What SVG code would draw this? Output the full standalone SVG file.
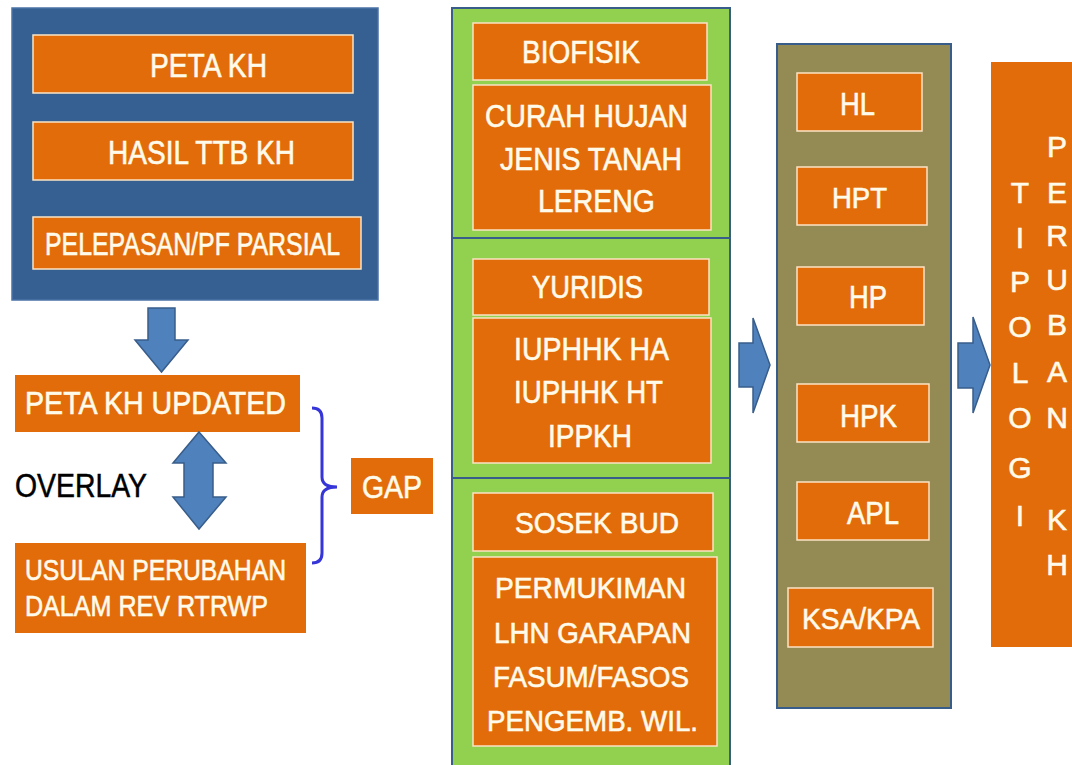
<svg xmlns="http://www.w3.org/2000/svg" width="1072" height="765" viewBox="0 0 1072 765">
<defs>
<style>
.ob{fill:#E36C0A;stroke:#FBE3C4;stroke-width:1.5}
.t{font-family:"Liberation Sans",Arial,sans-serif;fill:#FFFBEA;stroke:#FFFBEA;stroke-width:0.6}
.bk{font-family:"Liberation Sans",Arial,sans-serif;fill:#000;stroke:#000;stroke-width:0.5}
.gr{fill:#92D050;stroke:#385D8A;stroke-width:2}
.arw{fill:#4F81BD;stroke:#385D8A;stroke-width:1.5}
</style>
</defs>
<rect width="1072" height="765" fill="#fff"/>

<g id="left-container">
<rect x="12" y="8" width="366" height="292" fill="#376092" stroke="#4A72A6" stroke-width="1.5"/>
</g>
<g id="peta-kh">
<rect class="ob" x="33" y="35" width="320" height="58"/>
<text class="t" x="150" y="77" font-size="33" textLength="117" lengthAdjust="spacingAndGlyphs">PETA KH</text>
</g>
<g id="hasil-ttb">
<rect class="ob" x="33" y="122" width="320" height="58"/>
<text class="t" x="108" y="164" font-size="33" textLength="187" lengthAdjust="spacingAndGlyphs">HASIL TTB KH</text>
</g>
<g id="pelepasan">
<rect class="ob" x="33" y="217" width="328" height="52"/>
<text class="t" x="45" y="255" font-size="31" textLength="295" lengthAdjust="spacingAndGlyphs">PELEPASAN/PF  PARSIAL</text>
</g>

<g id="peta-kh-updated">
<rect x="15" y="375" width="285" height="57" fill="#E36C0A"/>
<text class="t" x="25" y="414" font-size="31" textLength="261" lengthAdjust="spacingAndGlyphs">PETA KH UPDATED</text>
</g>
<g id="overlay-label">
<text class="bk" x="15" y="497" font-size="33" textLength="132" lengthAdjust="spacingAndGlyphs">OVERLAY</text>
</g>
<g id="usulan">
<rect x="15" y="543" width="291" height="90" fill="#E36C0A"/>
<text class="t" x="25" y="580" font-size="29" textLength="261" lengthAdjust="spacingAndGlyphs">USULAN PERUBAHAN</text>
<text class="t" x="25" y="616" font-size="29" textLength="243" lengthAdjust="spacingAndGlyphs">DALAM REV RTRWP</text>
</g>
<g id="gap">
<rect x="351" y="458" width="82" height="56" fill="#E36C0A"/>
<text class="t" x="362" y="498" font-size="32" textLength="60" lengthAdjust="spacingAndGlyphs">GAP</text>
</g>

<g id="biofisik-section">
<rect class="gr" x="452" y="8" width="278" height="230"/>
<rect class="ob" x="473" y="23" width="234" height="57"/>
<text class="t" x="522" y="63" font-size="32" textLength="118" lengthAdjust="spacingAndGlyphs">BIOFISIK</text>
<rect class="ob" x="473" y="85" width="238" height="145"/>
<text class="t" x="485" y="127" font-size="32" textLength="203" lengthAdjust="spacingAndGlyphs">CURAH HUJAN</text>
<text class="t" x="500" y="170" font-size="32" textLength="182" lengthAdjust="spacingAndGlyphs">JENIS TANAH</text>
<text class="t" x="538" y="212" font-size="32" textLength="117" lengthAdjust="spacingAndGlyphs">LERENG</text>
</g>
<g id="yuridis-section">
<rect class="gr" x="452" y="238" width="278" height="240"/>
<rect class="ob" x="473" y="259" width="236" height="56"/>
<text class="t" x="532" y="298" font-size="31" textLength="111" lengthAdjust="spacingAndGlyphs">YURIDIS</text>
<rect class="ob" x="473" y="318" width="238" height="145"/>
<text class="t" x="514" y="360" font-size="32" textLength="155" lengthAdjust="spacingAndGlyphs">IUPHHK HA</text>
<text class="t" x="514" y="403" font-size="32" textLength="149" lengthAdjust="spacingAndGlyphs">IUPHHK HT</text>
<text class="t" x="548" y="447" font-size="32" textLength="84" lengthAdjust="spacingAndGlyphs">IPPKH</text>
</g>
<g id="sosek-section">
<rect class="gr" x="452" y="478" width="278" height="295"/>
<rect class="ob" x="473" y="493" width="240" height="58"/>
<text class="t" x="515" y="533" font-size="30" textLength="164" lengthAdjust="spacingAndGlyphs">SOSEK BUD</text>
<rect class="ob" x="473" y="557" width="244" height="189"/>
<text class="t" x="495" y="598" font-size="30" textLength="191" lengthAdjust="spacingAndGlyphs">PERMUKIMAN</text>
<text class="t" x="494" y="643" font-size="30" textLength="197" lengthAdjust="spacingAndGlyphs">LHN GARAPAN</text>
<text class="t" x="493" y="687" font-size="30" textLength="196" lengthAdjust="spacingAndGlyphs">FASUM/FASOS</text>
<text class="t" x="487" y="731" font-size="30" textLength="211" lengthAdjust="spacingAndGlyphs">PENGEMB. WIL.</text>
</g>

<g id="kawasan-column">
<rect x="777" y="44" width="174" height="664" fill="#948A54" stroke="#385D8A" stroke-width="2"/>
</g>
<g id="hl">
<rect class="ob" x="797" y="73" width="125" height="58"/>
<text class="t" x="840" y="115" font-size="31" textLength="35" lengthAdjust="spacingAndGlyphs">HL</text>
</g>
<g id="hpt">
<rect class="ob" x="797" y="167" width="130" height="58"/>
<text class="t" x="832" y="208" font-size="29" textLength="55" lengthAdjust="spacingAndGlyphs">HPT</text>
</g>
<g id="hp">
<rect class="ob" x="797" y="267" width="127" height="58"/>
<text class="t" x="849" y="308" font-size="31" textLength="38" lengthAdjust="spacingAndGlyphs">HP</text>
</g>
<g id="hpk">
<rect class="ob" x="797" y="384" width="132" height="58"/>
<text class="t" x="840" y="427" font-size="31" textLength="57" lengthAdjust="spacingAndGlyphs">HPK</text>
</g>
<g id="apl">
<rect class="ob" x="797" y="482" width="132" height="58"/>
<text class="t" x="847" y="524" font-size="31" textLength="52" lengthAdjust="spacingAndGlyphs">APL</text>
</g>
<g id="ksa-kpa">
<rect class="ob" x="788" y="588" width="145" height="59"/>
<text class="t" x="802" y="629" font-size="30" textLength="118" lengthAdjust="spacingAndGlyphs">KSA/KPA</text>
</g>

<g id="tipologi">
<rect x="991" y="62" width="90" height="585" fill="#E36C0A"/>
<g class="t" font-size="30" text-anchor="middle">
<text x="1020" y="203">T</text>
<text x="1020" y="248">I</text>
<text x="1020" y="292">P</text>
<text x="1020" y="337">O</text>
<text x="1020" y="383">L</text>
<text x="1020" y="428">O</text>
<text x="1020" y="478">G</text>
<text x="1020" y="526">I</text>
<text x="1057" y="157">P</text>
<text x="1057" y="203">E</text>
<text x="1057" y="246">R</text>
<text x="1057" y="290">U</text>
<text x="1057" y="335">B</text>
<text x="1057" y="382">A</text>
<text x="1057" y="428">N</text>
<text x="1057" y="530">K</text>
<text x="1057" y="575">H</text>
</g>
</g>

<g id="connectors">
<path class="arw" d="M148,308 L175,308 L175,340 L188,340 L161.5,372 L135,340 L148,340 Z"/>
<path class="arw" d="M199,432 L226,463 L213,463 L213,497 L226,497 L199,529 L173,497 L184,497 L184,463 L173,463 Z"/>
<path d="M312,408 Q322,408 322,418 L322,477 Q322,487 337,487 Q322,487 322,497 L322,553 Q322,563 312,563" fill="none" stroke="#3535D8" stroke-width="3"/>
<path class="arw" d="M739,343 L753,343 L753,318 L770,365 L753,413 L753,387 L739,387 Z"/>
<path class="arw" d="M958,343 L973,343 L973,317 L990,365 L973,413 L973,388 L958,388 Z"/>
</g>
</svg>
